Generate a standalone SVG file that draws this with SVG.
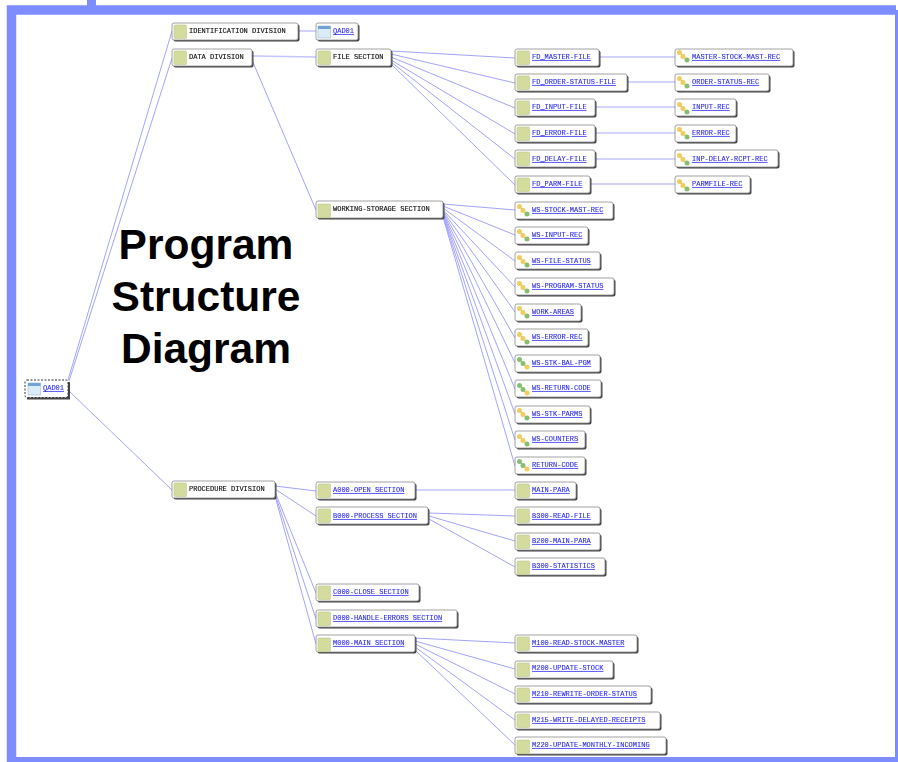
<svg xmlns="http://www.w3.org/2000/svg" width="898" height="762" viewBox="0 0 898 762">
<style>
.b{fill:#fff;stroke:#8a8a8a;stroke-width:.8}
.s{fill:#444}
.t{font:7px "Liberation Mono",monospace;fill:#111;stroke:#111;stroke-width:.15}
.l{font:7px "Liberation Mono",monospace;fill:#2a2af0;text-decoration:underline;stroke:#2a2af0;stroke-width:.1}
.c{stroke:#a3a3fb;stroke-width:1;fill:none}
.h{stroke:#c4c4fd;stroke-width:1.5;fill:none}
.title{font:bold 42.5px "Liberation Sans",Arial,sans-serif;fill:#000;text-anchor:middle}
g[id^="n-"]{filter:url(#soft)}
</style>
<defs>
<filter id="soft" x="-5%" y="-20%" width="110%" height="140%"><feGaussianBlur stdDeviation="0.3"/></filter>
<symbol id="sq" overflow="visible"><rect x="0" y="0" width="12.5" height="13.5" rx="1" fill="#d3dc9c" stroke="#bcc78a" stroke-width=".6"/></symbol>
<symbol id="win" overflow="visible"><rect x="0" y="0" width="12.5" height="12" fill="#d9ecf8" stroke="#9fb8cc" stroke-width=".6"/><rect x="0" y="0" width="12.5" height="3" fill="#6ea3d4"/></symbol>
<symbol id="yc" overflow="visible"><path d="M2.5 2.5L6 6.500L10 10" stroke="#777" stroke-width=".8" fill="none"/><circle cx="2.500" cy="2.500" r="2.500" fill="#f2cc5c"/><circle cx="6" cy="6.500" r="2.500" fill="#f2cc5c"/><circle cx="10" cy="10" r="2.500" fill="#85c070"/></symbol>
<symbol id="gc" overflow="visible"><path d="M2.5 2.5L6 6.500L10 10" stroke="#777" stroke-width=".8" fill="none"/><circle cx="2.500" cy="2.500" r="2.500" fill="#85c070"/><circle cx="6" cy="6.500" r="2.500" fill="#85c070"/><circle cx="10" cy="10" r="2.500" fill="#f2cc5c"/></symbol>
</defs>
<rect width="898" height="762" fill="#fff"/>
<path d="M11.500 762V10H896" fill="none" stroke="#7d8cff" stroke-width="9.500"/>
<rect x="87" y="0" width="9" height="6" fill="#7d8cff"/>
<rect x="895" y="10" width="3" height="752" fill="#7d8cff"/>
<rect x="7" y="757" width="891" height="5" fill="#7d8cff"/>
<g id="connectors">
<path class="c" d="M68 380L172 31M69 381L172 58M70 392L172 490"/>
<path class="h" d="M298 31H316M252 56L316 57"/>
<path class="c" d="M252 60L316 210"/>
<path class="c" d="M391 51L515 58M391 54L515 83M391 57L515 108M391 60L515 134M391 62L515 159M391 64L515 185"/>
<path class="h" d="M599 57H675M627 82H675M595 107H675M595 133H675M595 159H675M590 184H675"/>
<path class="c" d="M443 204L515 210M443 206L515 235M443 208L515 261M443 210L515 287M443 211L515 312M443 212L515 338M443 213L515 363M443 214L515 389M443 215L515 414M443 216L515 440M443 217L515 466"/>
<path class="c" d="M275 486L316 491M275 489L316 516M275 492L316 593M275 494L316 619M275 496L316 644"/>
<path class="h" d="M415 490H515"/>
<path class="c" d="M429 513L515 516M429 516L515 541M429 519L515 567"/>
<path class="c" d="M415 638L515 643M415 641L515 669M415 644L515 694M415 647L515 720M415 650L515 745"/>
</g>
<g id="n-root"><rect x="27" y="382" width="43" height="17.500" class="s"/><rect x="25" y="380" width="43" height="17.500" rx="2" fill="#fff" stroke="#333" stroke-dasharray="2 1.500"/><use href="#win" x="28" y="383"/><text class="l" x="43" y="390">QAD01</text></g>
<g id="n-id"><rect x="173.500" y="24.500" width="126" height="17" rx="2" class="s"/><rect x="172" y="23" width="126" height="17" rx="2" class="b"/><use href="#sq" x="174" y="25"/><text class="t" x="189" y="33">IDENTIFICATION DIVISION</text></g>
<g id="n-qad"><rect x="317.500" y="24.500" width="42" height="17" rx="2" class="s"/><rect x="316" y="23" width="42" height="17" rx="2" class="b"/><use href="#win" x="318" y="26"/><text class="l" x="333" y="33">QAD01</text></g>
<g id="n-data"><rect x="173.500" y="50.500" width="80" height="17" rx="2" class="s"/><rect x="172" y="49" width="80" height="17" rx="2" class="b"/><use href="#sq" x="174" y="51"/><text class="t" x="189" y="59">DATA DIVISION</text></g>
<g id="n-file"><rect x="317.500" y="50.500" width="75" height="17" rx="2" class="s"/><rect x="316" y="49" width="75" height="17" rx="2" class="b"/><use href="#sq" x="318" y="51"/><text class="t" x="333" y="59">FILE SECTION</text></g>
<g id="n-ws"><rect x="317.500" y="202.500" width="127" height="17" rx="2" class="s"/><rect x="316" y="201" width="127" height="17" rx="2" class="b"/><use href="#sq" x="318" y="204"/><text class="t" x="333" y="211">WORKING-STORAGE SECTION</text></g>
<g id="n-proc"><rect x="173.500" y="482.500" width="103" height="17" rx="2" class="s"/><rect x="172" y="481" width="103" height="17" rx="2" class="b"/><use href="#sq" x="174" y="483"/><text class="t" x="189" y="491">PROCEDURE DIVISION</text></g>

<g id="n-fd1"><rect x="516.500" y="50.500" width="84" height="17" rx="2" class="s"/><rect x="515" y="49" width="84" height="17" rx="2" class="b"/><use href="#sq" x="517" y="51"/><text class="l" x="532" y="59">FD_MASTER-FILE</text></g>
<g id="n-fd2"><rect x="516.500" y="75.500" width="112" height="17" rx="2" class="s"/><rect x="515" y="74" width="112" height="17" rx="2" class="b"/><use href="#sq" x="517" y="76"/><text class="l" x="532" y="84">FD_ORDER-STATUS-FILE</text></g>
<g id="n-fd3"><rect x="516.500" y="100.500" width="80" height="17" rx="2" class="s"/><rect x="515" y="99" width="80" height="17" rx="2" class="b"/><use href="#sq" x="517" y="101"/><text class="l" x="532" y="109">FD_INPUT-FILE</text></g>
<g id="n-fd4"><rect x="516.500" y="126.500" width="80" height="17" rx="2" class="s"/><rect x="515" y="125" width="80" height="17" rx="2" class="b"/><use href="#sq" x="517" y="127"/><text class="l" x="532" y="135">FD_ERROR-FILE</text></g>
<g id="n-fd5"><rect x="516.500" y="151.500" width="80" height="17" rx="2" class="s"/><rect x="515" y="150" width="80" height="17" rx="2" class="b"/><use href="#sq" x="517" y="152"/><text class="l" x="532" y="161">FD_DELAY-FILE</text></g>
<g id="n-fd6"><rect x="516.500" y="177.500" width="75" height="17" rx="2" class="s"/><rect x="515" y="176" width="75" height="17" rx="2" class="b"/><use href="#sq" x="517" y="178"/><text class="l" x="532" y="186">FD_PARM-FILE</text></g>

<g id="n-r1"><rect x="676.500" y="50.500" width="118" height="17" rx="2" class="s"/><rect x="675" y="49" width="118" height="17" rx="2" class="b"/><use href="#yc" x="677" y="50"/><text class="l" x="692" y="59">MASTER-STOCK-MAST-REC</text></g>
<g id="n-r2"><rect x="676.500" y="75.500" width="94" height="17" rx="2" class="s"/><rect x="675" y="74" width="94" height="17" rx="2" class="b"/><use href="#yc" x="677" y="76"/><text class="l" x="692" y="84">ORDER-STATUS-REC</text></g>
<g id="n-r3"><rect x="676.500" y="100.500" width="61" height="17" rx="2" class="s"/><rect x="675" y="99" width="61" height="17" rx="2" class="b"/><use href="#yc" x="677" y="102"/><text class="l" x="692" y="109">INPUT-REC</text></g>
<g id="n-r4"><rect x="676.500" y="126.500" width="61" height="17" rx="2" class="s"/><rect x="675" y="125" width="61" height="17" rx="2" class="b"/><use href="#yc" x="677" y="127"/><text class="l" x="692" y="135">ERROR-REC</text></g>
<g id="n-r5"><rect x="676.500" y="151.500" width="103" height="17" rx="2" class="s"/><rect x="675" y="150" width="103" height="17" rx="2" class="b"/><use href="#yc" x="677" y="153"/><text class="l" x="692" y="161">INP-DELAY-RCPT-REC</text></g>
<g id="n-r6"><rect x="676.500" y="177.500" width="75" height="17" rx="2" class="s"/><rect x="675" y="176" width="75" height="17" rx="2" class="b"/><use href="#yc" x="677" y="179"/><text class="l" x="692" y="186">PARMFILE-REC</text></g>

<g id="n-w1"><rect x="516.500" y="203.500" width="98" height="17" rx="2" class="s"/><rect x="515" y="202" width="98" height="17" rx="2" class="b"/><use href="#yc" x="517" y="204"/><text class="l" x="532" y="212">WS-STOCK-MAST-REC</text></g>
<g id="n-w2"><rect x="516.500" y="228.500" width="73" height="17" rx="2" class="s"/><rect x="515" y="227" width="73" height="17" rx="2" class="b"/><use href="#yc" x="517" y="229"/><text class="l" x="532" y="237">WS-INPUT-REC</text></g>
<g id="n-w3"><rect x="516.500" y="253.500" width="85" height="17" rx="2" class="s"/><rect x="515" y="252" width="85" height="17" rx="2" class="b"/><use href="#yc" x="517" y="255"/><text class="l" x="532" y="263">WS-FILE-STATUS</text></g>
<g id="n-w4"><rect x="516.500" y="279.500" width="99" height="17" rx="2" class="s"/><rect x="515" y="278" width="99" height="17" rx="2" class="b"/><use href="#yc" x="517" y="281"/><text class="l" x="532" y="288">WS-PROGRAM-STATUS</text></g>
<g id="n-w5"><rect x="516.500" y="305.500" width="66" height="17" rx="2" class="s"/><rect x="515" y="304" width="66" height="17" rx="2" class="b"/><use href="#yc" x="517" y="306"/><text class="l" x="532" y="314">WORK-AREAS</text></g>
<g id="n-w6"><rect x="516.500" y="330.500" width="73" height="17" rx="2" class="s"/><rect x="515" y="329" width="73" height="17" rx="2" class="b"/><use href="#yc" x="517" y="332"/><text class="l" x="532" y="339">WS-ERROR-REC</text></g>
<g id="n-w7"><rect x="516.500" y="356.500" width="85" height="17" rx="2" class="s"/><rect x="515" y="355" width="85" height="17" rx="2" class="b"/><use href="#gc" x="517" y="357"/><text class="l" x="532" y="365">WS-STK-BAL-PGM</text></g>
<g id="n-w8"><rect x="516.500" y="381.500" width="86" height="17" rx="2" class="s"/><rect x="515" y="380" width="86" height="17" rx="2" class="b"/><use href="#gc" x="517" y="383"/><text class="l" x="532" y="390">WS-RETURN-CODE</text></g>
<g id="n-w9"><rect x="516.500" y="407.500" width="75" height="17" rx="2" class="s"/><rect x="515" y="406" width="75" height="17" rx="2" class="b"/><use href="#yc" x="517" y="408"/><text class="l" x="532" y="416">WS-STK-PARMS</text></g>
<g id="n-w10"><rect x="516.500" y="432.500" width="70" height="17" rx="2" class="s"/><rect x="515" y="431" width="70" height="17" rx="2" class="b"/><use href="#yc" x="517" y="434"/><text class="l" x="532" y="441">WS-COUNTERS</text></g>
<g id="n-w11"><rect x="516.500" y="458.500" width="70" height="17" rx="2" class="s"/><rect x="515" y="457" width="70" height="17" rx="2" class="b"/><use href="#gc" x="517" y="459"/><text class="l" x="532" y="467">RETURN-CODE</text></g>

<g id="n-a"><rect x="317.500" y="483.500" width="99" height="17" rx="2" class="s"/><rect x="316" y="482" width="99" height="17" rx="2" class="b"/><use href="#sq" x="318" y="484"/><text class="l" x="333" y="492">A000-OPEN SECTION</text></g>
<g id="n-b"><rect x="317.500" y="508.500" width="112" height="17" rx="2" class="s"/><rect x="316" y="507" width="112" height="17" rx="2" class="b"/><use href="#sq" x="318" y="509"/><text class="l" x="333" y="518">B000-PROCESS SECTION</text></g>
<g id="n-c"><rect x="317.500" y="585.500" width="103" height="17" rx="2" class="s"/><rect x="316" y="584" width="103" height="17" rx="2" class="b"/><use href="#sq" x="318" y="586"/><text class="l" x="333" y="594">C000-CLOSE SECTION</text></g>
<g id="n-d"><rect x="317.500" y="611.500" width="141" height="17" rx="2" class="s"/><rect x="316" y="610" width="141" height="17" rx="2" class="b"/><use href="#sq" x="318" y="612"/><text class="l" x="333" y="620">D000-HANDLE-ERRORS SECTION</text></g>
<g id="n-m"><rect x="317.500" y="636.500" width="99" height="17" rx="2" class="s"/><rect x="316" y="635" width="99" height="17" rx="2" class="b"/><use href="#sq" x="318" y="638"/><text class="l" x="333" y="645">M000-MAIN SECTION</text></g>

<g id="n-p1"><rect x="516.500" y="483.500" width="61" height="17" rx="2" class="s"/><rect x="515" y="482" width="61" height="17" rx="2" class="b"/><use href="#sq" x="517" y="484"/><text class="l" x="532" y="492">MAIN-PARA</text></g>
<g id="n-p2"><rect x="516.500" y="508.500" width="85" height="17" rx="2" class="s"/><rect x="515" y="507" width="85" height="17" rx="2" class="b"/><use href="#sq" x="517" y="509"/><text class="l" x="532" y="518">B300-READ-FILE</text></g>
<g id="n-p3"><rect x="516.500" y="534.500" width="85" height="17" rx="2" class="s"/><rect x="515" y="533" width="85" height="17" rx="2" class="b"/><use href="#sq" x="517" y="535"/><text class="l" x="532" y="543">B200-MAIN-PARA</text></g>
<g id="n-p4"><rect x="516.500" y="559.500" width="90" height="17" rx="2" class="s"/><rect x="515" y="558" width="90" height="17" rx="2" class="b"/><use href="#sq" x="517" y="561"/><text class="l" x="532" y="568">B300-STATISTICS</text></g>
<g id="n-m1"><rect x="516.500" y="636.500" width="122" height="17" rx="2" class="s"/><rect x="515" y="635" width="122" height="17" rx="2" class="b"/><use href="#sq" x="517" y="637"/><text class="l" x="532" y="645">M100-READ-STOCK-MASTER</text></g>
<g id="n-m2"><rect x="516.500" y="662.500" width="98" height="17" rx="2" class="s"/><rect x="515" y="661" width="98" height="17" rx="2" class="b"/><use href="#sq" x="517" y="663"/><text class="l" x="532" y="670">M200-UPDATE-STOCK</text></g>
<g id="n-m3"><rect x="516.500" y="687.500" width="136" height="17" rx="2" class="s"/><rect x="515" y="686" width="136" height="17" rx="2" class="b"/><use href="#sq" x="517" y="688"/><text class="l" x="532" y="696">M210-REWRITE-ORDER-STATUS</text></g>
<g id="n-m4"><rect x="516.500" y="713.500" width="145" height="17" rx="2" class="s"/><rect x="515" y="712" width="145" height="17" rx="2" class="b"/><use href="#sq" x="517" y="714"/><text class="l" x="532" y="722">M215-WRITE-DELAYED-RECEIPTS</text></g>
<g id="n-m5"><rect x="516.500" y="738.500" width="151" height="17" rx="2" class="s"/><rect x="515" y="737" width="151" height="17" rx="2" class="b"/><use href="#sq" x="517" y="740"/><text class="l" x="532" y="747">M220-UPDATE-MONTHLY-INCOMING</text></g>

<text class="title" x="206" y="259">Program</text>
<text class="title" x="206" y="311">Structure</text>
<text class="title" x="206" y="363">Diagram</text>
</svg>
